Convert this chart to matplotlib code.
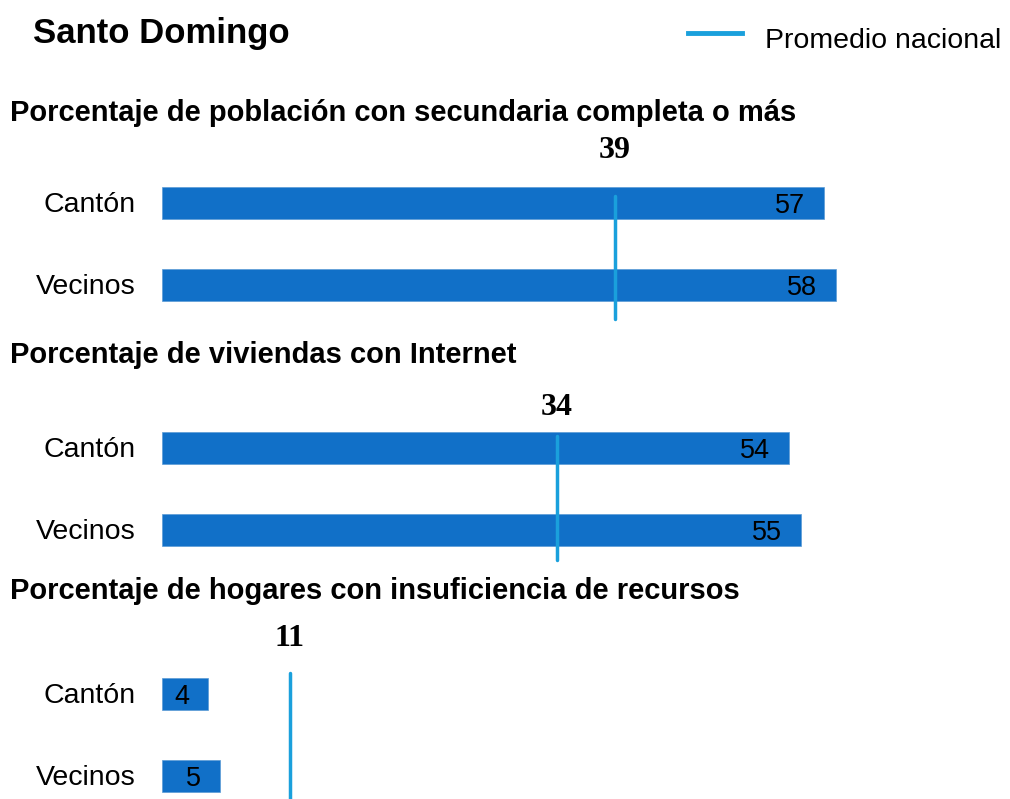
import matplotlib
matplotlib.use("Agg")
import matplotlib.pyplot as plt

plt.rcParams['font.family'] = ['Liberation Sans', 'DejaVu Sans']

# data
titulo = "Santo Domingo"
indicadores = [
    "Porcentaje de población con secundaria completa o más",
    "Porcentaje de viviendas con Internet",
    "Porcentaje de hogares con insuficiencia de recursos",
]
categorias = ["Cantón", "Vecinos"]
canton = [57, 54, 4]
vecinos = [58, 55, 5]
nacional = [39, 34, 11]

BAR = "#1170c8"
LINE = "#1aa0dc"

W, H = 1010, 799
fig = plt.figure(figsize=(W / 100, H / 100), dpi=100)

def fy(px):
    return 1 - px / H

fig.text(33 / W, fy(33), titulo, fontsize=25, fontweight="bold", va="center", ha="left")
fig.lines.append(plt.Line2D([688 / W, 742 / W], [fy(33), fy(33)], color=LINE, lw=3.5,
                            transform=fig.transFigure))
fig.text(765 / W, fy(41), "Promedio nacional", fontsize=20.5, va="center", ha="left")

# layout per panel (pixels): subtitle y, axes top, axes bottom, Cantón centre, line top, line bottom, label y
paneles = [
    (113, 140, 320, 203, 196, 319, 151),
    (355, 395, 562, 448, 436, 560, 408),
    (591, 625, 799, 694, 673, 799, 638),
]
step = 82.0
x0, unit = 162, 11.62

for i, (ty, top, bot, c, l1, l2, ly) in enumerate(paneles):
    fig.text(10 / W, fy(ty), indicadores[i], fontsize=21, fontweight="bold", va="center", ha="left")
    ax = fig.add_axes([x0 / W, fy(bot), 60 * unit / W, (bot - top) / H])
    ax.set_xlim(0, 60)
    ax.set_ylim((bot - c) / step, (top - c) / step)
    vals = [canton[i], vecinos[i]]
    ax.barh([0, 1], vals, height=32 / step, color=BAR, edgecolor="#5b9bd5", linewidth=0.5)
    for y, v in zip([0, 1], vals):
        ax.annotate(str(v), (v, y), xytext=(-14, -2), textcoords="offset points",
                    ha="right", va="center", fontsize=19.5)
        ax.annotate(categorias[y], (0, y), xytext=(-19, -1.5), textcoords="offset points",
                    ha="right", va="center", fontsize=20.5)
    ax.plot([nacional[i], nacional[i]], [(l1 - c) / step, (l2 - c) / step], color=LINE, lw=2.5,
            solid_capstyle="round", clip_on=False)
    ax.text(nacional[i], (ly - c) / step, str(nacional[i]), ha="center", va="center",
            fontsize=23, fontweight="bold", family="Liberation Serif")
    ax.axis("off")

fig.savefig("out.png", dpi=100)
